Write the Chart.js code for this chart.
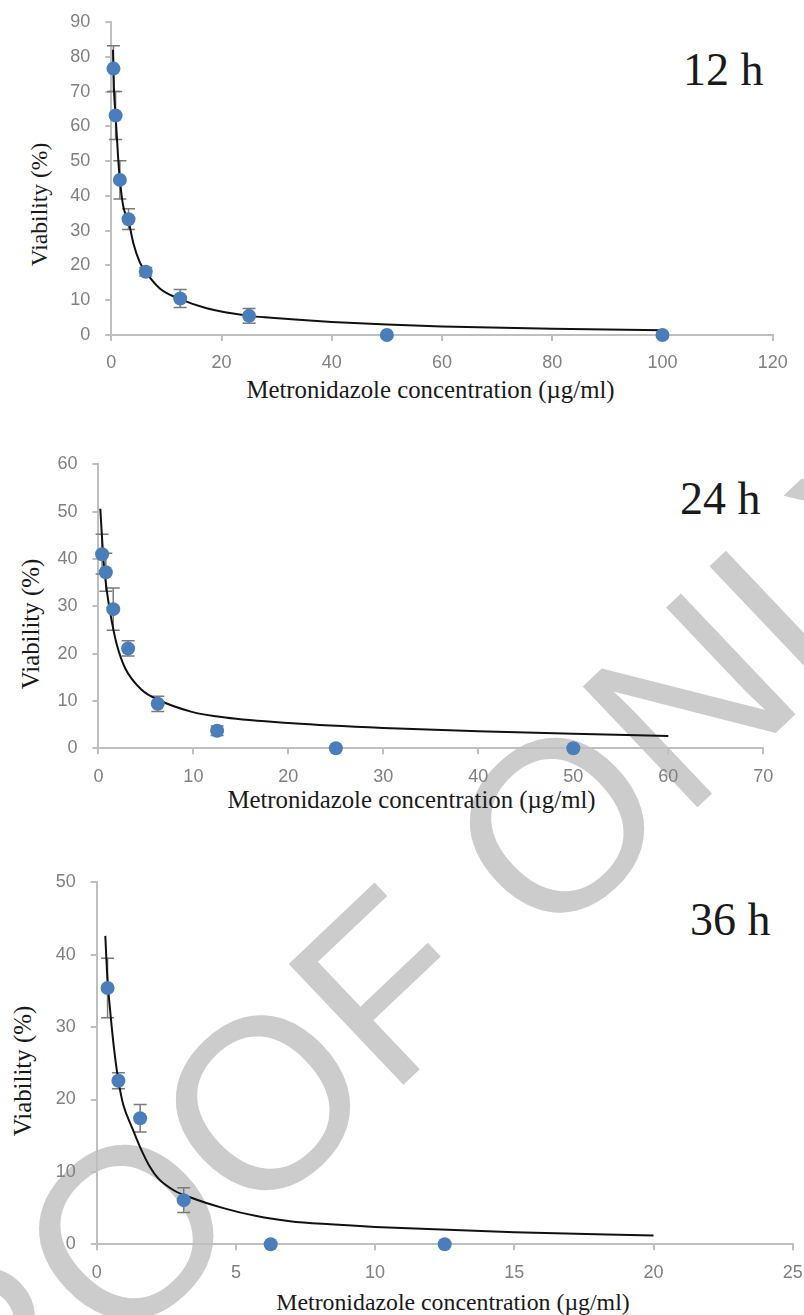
<!DOCTYPE html>
<html>
<head>
<meta charset="utf-8">
<title>Metronidazole viability</title>
<script src="https://cdn.jsdelivr.net/npm/chart.js@4.4.1/dist/chart.umd.min.js"></script>
<style>
  html, body { margin: 0; padding: 0; background: #fff; }
  #page { position: relative; width: 804px; height: 1315px; overflow: hidden; }
  #page svg { position: absolute; left: 0; top: 0; }
  #page canvas { position: absolute; left: 0; }
</style>
</head>
<body>
<div id="page">
  <svg width="804" height="1315">
    <!-- proof watermark, behind the charts -->
    <g font-family="Liberation Sans" font-size="242" fill="#cccccc">
      <text x="-128" y="1589" transform="rotate(-43.5 -128 1589)">PROOF</text>
      <text x="546.4" y="950.5" transform="rotate(-43.5 546.4 950.5)">ONLY</text>
    </g>

    <text x="683" y="85" font-family="Liberation Serif" font-size="46" fill="#1a1a1a">12 h</text>
    <text x="680" y="514" font-family="Liberation Serif" font-size="46" fill="#1a1a1a">24 h</text>
    <text x="690" y="935" font-family="Liberation Serif" font-size="46" fill="#1a1a1a">36 h</text>

    <text x="430.5" y="398" text-anchor="middle" font-family="Liberation Serif" font-size="24.8" fill="#1a1a1a">Metronidazole concentration (µg/ml)</text>
    <text x="411.5" y="808" text-anchor="middle" font-family="Liberation Serif" font-size="24.8" fill="#1a1a1a">Metronidazole concentration (µg/ml)</text>
    <text x="453" y="1310" text-anchor="middle" font-family="Liberation Serif" font-size="23.8" fill="#1a1a1a">Metronidazole concentration (µg/ml)</text>

    <text x="47" y="204.5" transform="rotate(-90 47 204.5)" text-anchor="middle" font-family="Liberation Serif" font-size="23.6" fill="#1a1a1a">Viability (%)</text>
    <text x="39" y="624" transform="rotate(-90 39 624)" text-anchor="middle" font-family="Liberation Serif" font-size="24.9" fill="#1a1a1a">Viability (%)</text>
    <text x="30.5" y="1071" transform="rotate(-90 30.5 1071)" text-anchor="middle" font-family="Liberation Serif" font-size="24.9" fill="#1a1a1a">Viability (%)</text>
  </svg>
  <canvas id="c12" width="804" height="380" style="top:0px"></canvas>
  <canvas id="c24" width="804" height="350" style="top:440px"></canvas>
  <canvas id="c36" width="804" height="440" style="top:860px"></canvas>
</div>
<script>
// 12 h
const conc12 = [0.39, 0.78, 1.56, 3.125, 6.25, 12.5, 25, 50, 100];
const viab12 = [76.6, 63.1, 44.6, 33.3, 18.2, 10.5, 5.5, 0, 0];
const err12 = [6.6, 6.9, 5.5, 3.0, 1.2, 2.6, 2.1, 0, 0];
const fitX12 = [0.3, 0.49, 0.78, 1.27, 1.56, 2.18, 3.15, 4.0, 5.2, 6.3, 8.8, 12.5, 17.3, 25, 29, 34, 40, 50, 60, 80, 100];
const fitY12 = [82, 70.4, 63, 50.3, 44.6, 36.9, 32.6, 26.4, 20.8, 18.0, 13.4, 10.3, 7.7, 5.5, 4.95, 4.35, 3.75, 3.0, 2.45, 1.8, 1.4];

// 24 h
const conc24 = [0.39, 0.78, 1.56, 3.125, 6.25, 12.5, 25, 50];
const viab24 = [41.0, 37.2, 29.4, 21.1, 9.4, 3.7, 0, 0];
const err24 = [4.2, 4.0, 4.45, 1.6, 1.6, 1.0, 0, 0];
const fitX24 = [0.2, 0.55, 0.9, 1.42, 1.95, 2.82, 4.58, 6.34, 9.84, 13.35, 20.4, 30, 40, 50, 60];
const fitY24 = [50.6, 39.4, 33.1, 26.7, 21.8, 16.9, 12.3, 10.2, 7.7, 6.5, 5.3, 4.3, 3.6, 3.05, 2.6];

// 36 h
const conc36 = [0.39, 0.78, 1.56, 3.125, 6.25, 12.5];
const viab36 = [35.4, 22.6, 17.4, 6.1, 0, 0];
const err36 = [4.1, 1.1, 1.9, 1.7, 0, 0];
const fitX36 = [0.31, 0.38, 0.48, 0.6, 0.72, 0.84, 0.96, 1.26, 1.55, 1.91, 2.21, 2.75, 3.35, 4.55, 5.74, 6.94, 8.38, 10, 15, 20];
const fitY36 = [42.6, 37.0, 32.4, 27.8, 24.1, 21.3, 19.2, 16.2, 13.5, 10.7, 9.1, 7.5, 6.5, 5.0, 3.9, 3.2, 2.76, 2.4, 1.65, 1.2];

const BLUE = '#4a7ebb';
const AXIS = '#bfbfbf';
const TICK_TEXT = '#808080';

// whiskers for the measured points (dataset 0), under the markers
const errorBars = {
  id: 'errorBars',
  beforeDatasetsDraw(chart, args, opts) {
    const ctx = chart.ctx;
    const xs = chart.scales.x, ys = chart.scales.y;
    const pts = chart.data.datasets[0].data;
    ctx.save();
    ctx.strokeStyle = '#7a7a7a';
    ctx.lineWidth = 1.5;
    pts.forEach((p, i) => {
      const e = opts.values[i];
      if (!e) return;
      const px = xs.getPixelForValue(p.x);
      const top = ys.getPixelForValue(p.y + e);
      const bot = ys.getPixelForValue(p.y - e);
      ctx.beginPath();
      ctx.moveTo(px, top); ctx.lineTo(px, bot);
      ctx.moveTo(px - 6.5, top); ctx.lineTo(px + 6.5, top);
      ctx.moveTo(px - 6.5, bot); ctx.lineTo(px + 6.5, bot);
      ctx.stroke();
    });
    ctx.restore();
  }
};

function pairs(xs, ys) {
  return xs.map((x, i) => ({ x: x, y: ys[i] }));
}

function makeChart(id, cfg) {
  const ctx = document.getElementById(id).getContext('2d');
  return new Chart(ctx, {
    type: 'scatter',
    data: {
      datasets: [{
        data: pairs(cfg.conc, cfg.viab),
        backgroundColor: BLUE,
        borderColor: BLUE,
        pointRadius: 7,
        pointBorderWidth: 0,
        clip: false,
        order: 0
      }, {
        data: pairs(cfg.fitX, cfg.fitY),
        showLine: true,
        borderColor: '#111111',
        borderWidth: 2,
        pointRadius: 0,
        cubicInterpolationMode: 'monotone',
        clip: false,
        order: 1
      }]
    },
    options: {
      responsive: false,
      animation: false,
      devicePixelRatio: 1,
      layout: { padding: cfg.pad },
      plugins: {
        legend: { display: false },
        tooltip: { enabled: false },
        errorBars: { values: cfg.err }
      },
      scales: {
        x: {
          type: 'linear',
          min: 0, max: cfg.xMax,
          border: { color: AXIS, width: 2 },
          grid: { drawOnChartArea: false, drawTicks: true, tickLength: 6, color: AXIS, lineWidth: 2 },
          ticks: {
            stepSize: cfg.xStep, autoSkip: false, maxRotation: 0,
            padding: 11.6, color: TICK_TEXT,
            font: { family: 'Liberation Sans', size: 18 }
          },
          afterFit(s) { s.height = 40; s.paddingLeft = 0; s.paddingRight = 0; }
        },
        y: {
          type: 'linear',
          min: 0, max: cfg.yMax,
          border: { color: AXIS, width: 2 },
          grid: { drawOnChartArea: false, drawTicks: true, tickLength: 6, color: AXIS, lineWidth: 2 },
          ticks: {
            stepSize: 10, autoSkip: false,
            padding: 15, color: TICK_TEXT,
            font: { family: 'Liberation Sans', size: 18 }
          },
          afterFit(s) { s.width = cfg.yWidth; s.paddingTop = 0; s.paddingBottom = 0; }
        }
      }
    },
    plugins: [errorBars]
  });
}

makeChart('c12', {
  conc: conc12, viab: viab12, err: err12, fitX: fitX12, fitY: fitY12,
  xMax: 120, xStep: 20, yMax: 90, yWidth: 111.3,
  pad: { left: 0, right: 31.3, top: 22, bottom: 5 }
});
makeChart('c24', {
  conc: conc24, viab: viab24, err: err24, fitX: fitX24, fitY: fitY24,
  xMax: 70, xStep: 10, yMax: 60, yWidth: 98.4,
  pad: { left: 0, right: 40.7, top: 24.3, bottom: 1.7 }
});
makeChart('c36', {
  conc: conc36, viab: viab36, err: err36, fitX: fitX36, fitY: fitY36,
  xMax: 25, xStep: 5, yMax: 50, yWidth: 96.7,
  pad: { left: 0, right: 11.3, top: 22.3, bottom: 15.7 }
});
</script>
</body>
</html>
